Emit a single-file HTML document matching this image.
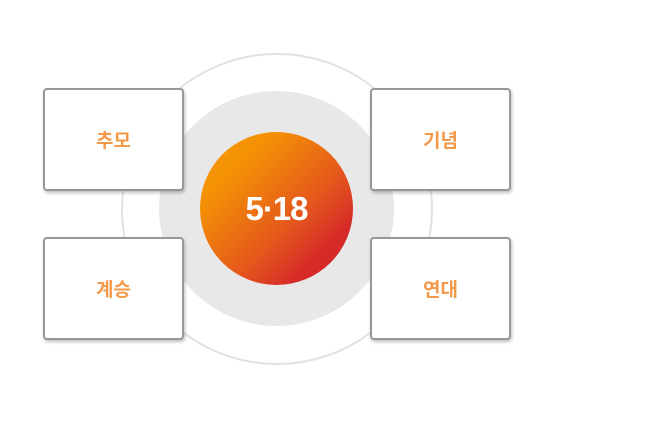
<!DOCTYPE html>
<html><head><meta charset="utf-8"><style>
body{margin:0;width:653px;height:441px;background:#fff;position:relative;overflow:hidden;font-family:"Liberation Sans","Noto Sans CJK KR",sans-serif}
.c{position:absolute;border-radius:50%}
.b{position:absolute;width:137px;height:99px;border:2px solid #979797;border-radius:4px;background:#fff;box-shadow:1px 2px 3px rgba(0,0,0,.25);display:flex;align-items:center;justify-content:center;color:#f39a4a;font-size:19px;font-weight:bold}
</style></head><body>
<div class="c" style="left:121px;top:53px;width:308px;height:308px;border:2px solid #e2e2e2"></div>
<div class="c" style="left:159px;top:91px;width:235px;height:235px;background:#e8e8e8"></div>
<div class="c" style="left:200px;top:132px;width:153px;height:153px;background:linear-gradient(135deg,#f89a05 0%,#f39005 25%,#e4561d 60%,#d52a28 80%,#d52a28 100%);display:flex;align-items:center;justify-content:center;color:#fff;font-size:33px;font-weight:bold;letter-spacing:-1px">5·18</div>
<div class="b" style="left:43px;top:88px">추모</div>
<div class="b" style="left:43px;top:237px">계승</div>
<div class="b" style="left:370px;top:88px">기념</div>
<div class="b" style="left:370px;top:237px">연대</div>
</body></html>
